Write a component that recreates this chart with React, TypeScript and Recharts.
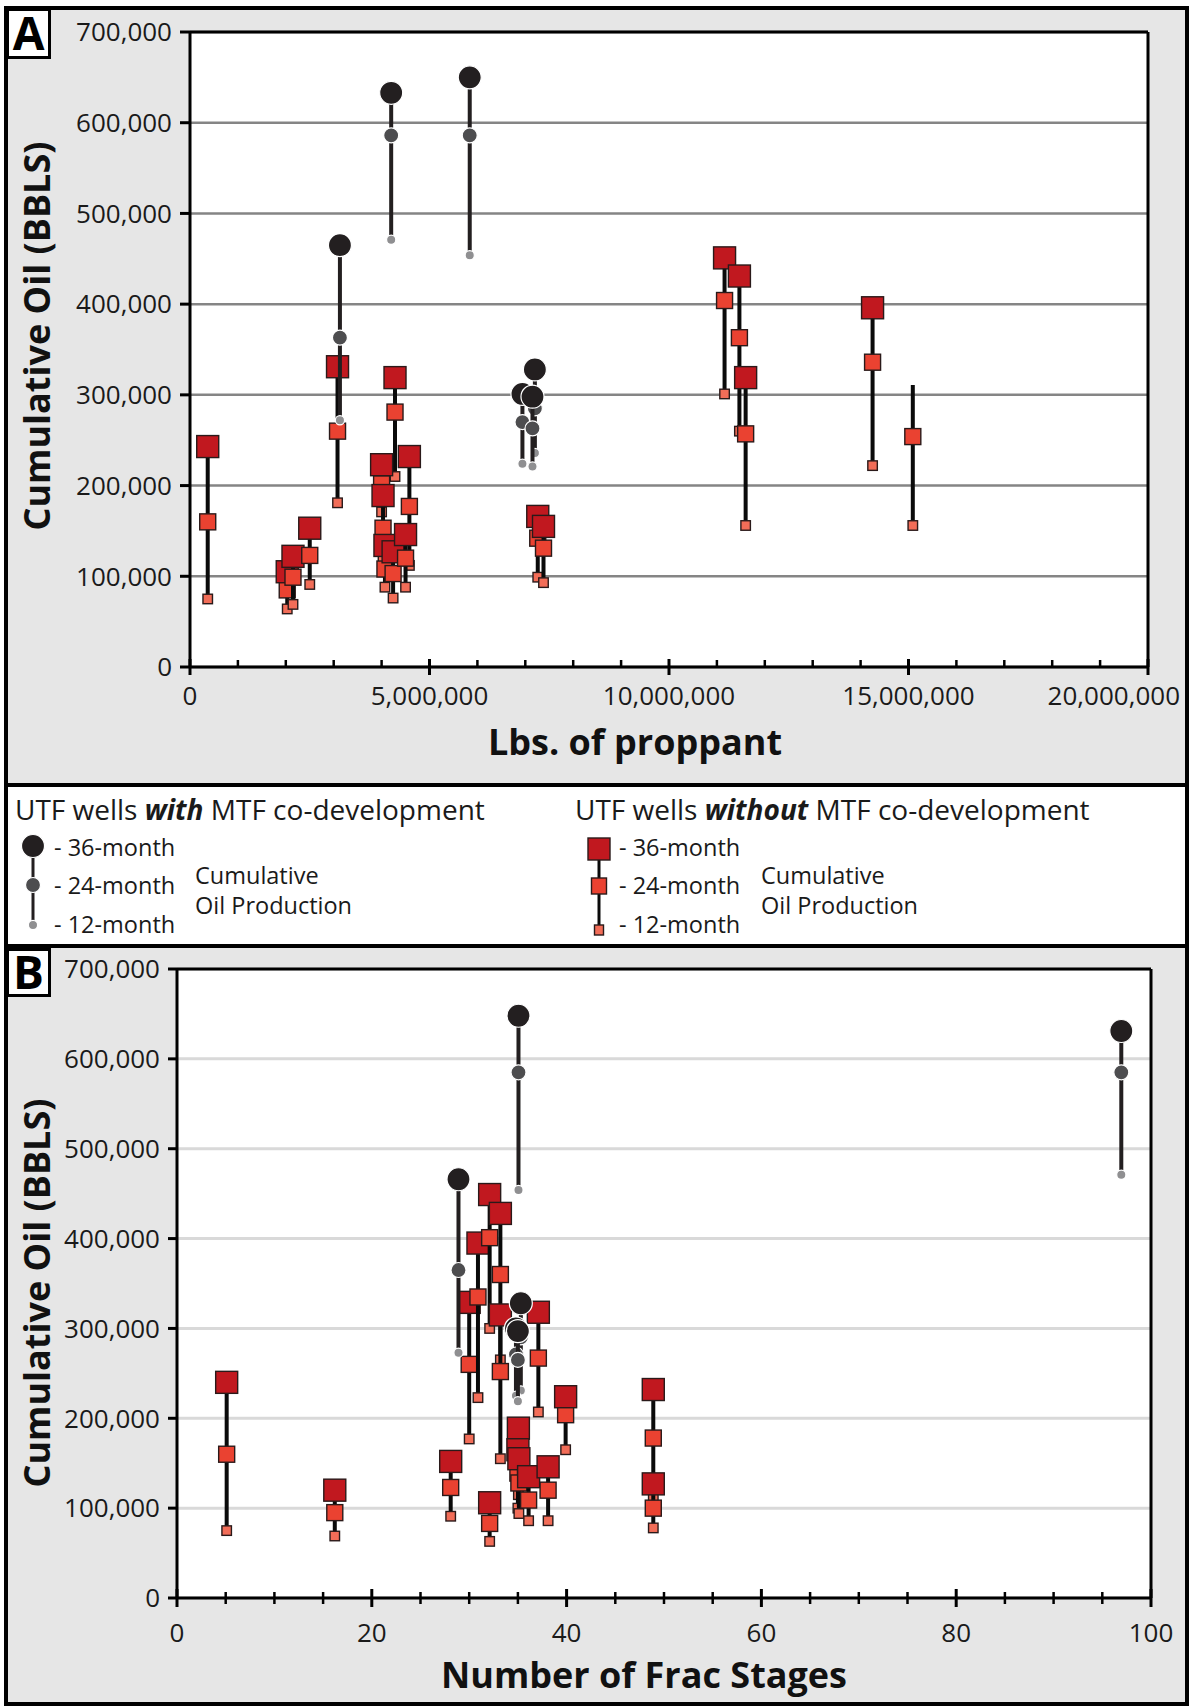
import React from 'react';
import { ScatterChart, Scatter, XAxis, YAxis, CartesianGrid } from 'recharts';

const FONT = "'Open Sans', 'DejaVu Sans', sans-serif";

// ---------------- Panel A : cumulative oil vs lbs. of proppant ----------------
// UTF wells WITH MTF co-development (circles)
const aWithProppant = [7200000, 6940000, 7150000, 3130000, 4200000, 5840000];
const aWithOil36 = [328000, 301000, 298000, 465000, 633000, 650000];
const aWithOil24 = [285000, 270000, 263000, 363000, 586000, 586000];
const aWithOil12 = [236000, 224000, 221000, 272000, 471000, 454000];

// UTF wells WITHOUT MTF co-development (squares)
const aWithoutProppant = [370000, 2030000, 2150000, 2500000, 3080000, 4280000, 4000000, 4030000, 4070000, 4240000, 4580000, 4500000, 7260000, 7380000, 11160000, 11470000, 11600000, 14250000, 15090000];
const aWithoutOil36 = [243000, 105000, 122000, 153000, 331000, 319000, 223000, 189000, 134000, 127000, 232000, 146000, 166000, 155000, 451000, 431000, 319000, 396000, 311000];
const aWithoutOil24 = [160000, 85000, 99000, 123000, 260000, 281000, 202000, 153000, 108000, 103000, 177000, 120000, 142000, 131000, 404000, 363000, 257000, 336000, 254000];
const aWithoutOil12 = [75000, 64000, 69000, 91000, 181000, 210000, 171000, 119000, 88000, 76000, 112000, 88000, 99000, 93000, 301000, 260000, 156000, 222000, 156000];
const aWithout36Marked = [true, true, true, true, true, true, true, true, true, true, true, true, true, true, true, true, true, true, false];

// ---------------- Panel B : cumulative oil vs number of frac stages ----------------
const bWithStages = [35.3, 34.8, 35.0, 28.9, 96.95, 35.06];
const bWithOil36 = [328000, 300000, 297000, 466000, 631000, 648000];
const bWithOil24 = [290000, 271000, 265000, 365000, 585000, 585000];
const bWithOil12 = [231000, 225000, 219000, 273000, 471000, 454000];

const bWithoutStages = [5.1, 16.2, 28.1, 30.0, 30.9, 32.1, 33.2, 33.2, 32.1, 35.05, 35.0, 35.1, 36.1, 38.1, 39.9, 37.1, 48.9, 48.9];
const bWithoutOil36 = [240000, 120000, 152000, 329000, 395000, 449000, 428000, 315000, 106000, 189000, 165000, 155000, 135000, 146000, 224000, 318000, 232000, 127000];
const bWithoutOil24 = [160000, 95000, 123000, 260000, 335000, 401000, 360000, 252000, 83000, 154000, 139000, 128000, 109000, 120000, 204000, 267000, 178000, 100000];
const bWithoutOil12 = [75000, 69000, 91000, 177000, 223000, 300000, 265000, 155000, 63000, 115000, 100000, 94000, 86000, 86000, 165000, 207000, 112000, 78000];

// ---------------- ticks ----------------
const oilTicks = [0, 100000, 200000, 300000, 400000, 500000, 600000, 700000];
const proppantTicks = [0, 1000000, 2000000, 3000000, 4000000, 5000000, 6000000, 7000000, 8000000, 9000000, 10000000, 11000000, 12000000, 13000000, 14000000, 15000000, 16000000, 17000000, 18000000, 19000000, 20000000];
const proppantLabelTicks = [0, 5000000, 10000000, 15000000, 20000000];
const stageTicks = [0, 5, 10, 15, 20, 25, 30, 35, 40, 45, 50, 55, 60, 65, 70, 75, 80, 85, 90, 95, 100];
const stageLabelTicks = [0, 20, 40, 60, 80, 100];

// ---------------- colours ----------------
const SQ36 = '#c1181f';
const SQ24 = '#ea4231';
const SQ12 = '#f26d58';
const SQ_EDGE = '#2a1a1a';
const CI36 = '#231f20';
const CI24 = '#4d4d4f';
const CI12 = '#8f8f91';

type Pt = { x: number; y: number; m: number; hidden?: boolean };

function buildWells(xs: number[], y36: number[], y24: number[], y12: number[], marked?: boolean[]): Pt[][] {
  return xs.map((x, i) => [
    { x, y: y12[i], m: 12 },
    { x, y: y24[i], m: 24 },
    { x, y: y36[i], m: 36, hidden: marked ? !marked[i] : false },
  ]);
}

const fmt = (v: number) => v.toLocaleString('en-US');

const CircleMark = (props: any) => {
  const { cx, cy, payload } = props;
  if (cx == null || cy == null || !payload || payload.hidden) return <g />;
  const r = payload.m === 36 ? 11.5 : payload.m === 24 ? 7.5 : 4.6;
  const fill = payload.m === 36 ? CI36 : payload.m === 24 ? CI24 : CI12;
  return <circle cx={cx} cy={cy} r={r} fill={fill} stroke="#ffffff" strokeWidth={1.2} />;
};

const SquareMark = (props: any) => {
  const { cx, cy, payload } = props;
  if (cx == null || cy == null || !payload || payload.hidden) return <g />;
  const s = payload.m === 36 ? 22 : payload.m === 24 ? 16 : 9.5;
  const fill = payload.m === 36 ? SQ36 : payload.m === 24 ? SQ24 : SQ12;
  return <rect x={cx - s / 2} y={cy - s / 2} width={s} height={s} fill={fill} stroke={SQ_EDGE} strokeWidth={1.4} />;
};

const ProppantTick = (props: any) => {
  const { x, y, payload } = props;
  const v = payload.value;
  const major = proppantLabelTicks.includes(v);
  const last = v === 20000000;
  return (
    <g>
      <line x1={x} x2={x} y1={y - (major ? 8 : 7)} y2={major ? y + 8 : y} stroke="#000" strokeWidth={major ? 3 : 2.5} />
      {major && (
        <text x={last ? x + 32 : x} y={y + 38} textAnchor={last ? 'end' : 'middle'} fontSize={26} fontFamily={FONT} fill="#1a1a1a">
          {fmt(v)}
        </text>
      )}
    </g>
  );
};

const StageTick = (props: any) => {
  const { x, y, payload } = props;
  const v = payload.value;
  const major = stageLabelTicks.includes(v);
  return (
    <g>
      <line x1={x} x2={x} y1={y - (major ? 9 : 6)} y2={y + (major ? 9 : 6)} stroke="#000" strokeWidth={major ? 3 : 2.5} />
      {major && (
        <text x={x} y={y + 44} textAnchor="middle" fontSize={26} fontFamily={FONT} fill="#1a1a1a">
          {fmt(v)}
        </text>
      )}
    </g>
  );
};

type PanelProps = {
  width: number;
  height: number;
  margin: { top: number; right: number; bottom: number; left: number };
  xDomain: [number, number];
  xTicks: number[];
  xTick: any;
  yTickSize: number;
  gridColor: string;
  gridWidth: number;
  withWells: Pt[][];
  withoutWells: Pt[][];
};

function Panel(p: PanelProps) {
  const frame = { stroke: '#000', strokeWidth: 3 };
  return (
    <ScatterChart width={p.width} height={p.height} margin={p.margin}>
      <CartesianGrid vertical={false} stroke={p.gridColor} strokeWidth={p.gridWidth} fill="#ffffff" fillOpacity={1} />
      <XAxis xAxisId="frameTop" orientation="top" type="number" domain={p.xDomain} height={1} tick={false} tickLine={false} axisLine={frame} allowDataOverflow />
      <YAxis yAxisId="frameRight" orientation="right" type="number" domain={[0, 700000]} width={1} tick={false} tickLine={false} axisLine={frame} allowDataOverflow />
      <XAxis
        type="number"
        dataKey="x"
        domain={p.xDomain}
        ticks={p.xTicks}
        interval={0}
        height={60}
        tickSize={0}
        tickMargin={0}
        tickLine={false}
        axisLine={frame}
        tick={(tp: any) => p.xTick(tp)}
        allowDataOverflow
      />
      <YAxis
        type="number"
        dataKey="y"
        domain={[0, 700000]}
        ticks={oilTicks}
        interval={0}
        width={60}
        tickSize={p.yTickSize}
        tickMargin={8}
        tickLine={{ stroke: '#000', strokeWidth: 3 }}
        axisLine={frame}
        tick={{ fill: '#1a1a1a', fontSize: 26, fontFamily: FONT }}
        tickFormatter={fmt}
        allowDataOverflow
      />
      {p.withoutWells.map((w, i) => (
        <Scatter
          key={'wo' + i}
          data={w}
          dataKey="y"
          line={{ stroke: '#0a0a0a', strokeWidth: 4 }}
          lineJointType="linear"
          shape={SquareMark}
          isAnimationActive={false}
        />
      ))}
      {p.withWells.map((w, i) => (
        <Scatter
          key={'w' + i}
          data={w}
          dataKey="y"
          line={{ stroke: CI36, strokeWidth: 4 }}
          lineJointType="linear"
          shape={CircleMark}
          isAnimationActive={false}
        />
      ))}
    </ScatterChart>
  );
}

const boxStyle = (top: number, height: number, bg: string): React.CSSProperties => ({
  position: 'absolute',
  left: 4,
  top,
  width: 1185,
  height,
  background: bg,
  border: '4px solid #000',
  boxSizing: 'border-box',
});

export default function App() {
  const aWith = buildWells(aWithProppant, aWithOil36, aWithOil24, aWithOil12);
  const aWithout = buildWells(aWithoutProppant, aWithoutOil36, aWithoutOil24, aWithoutOil12, aWithout36Marked);
  const bWith = buildWells(bWithStages, bWithOil36, bWithOil24, bWithOil12);
  const bWithout = buildWells(bWithoutStages, bWithoutOil36, bWithoutOil24, bWithoutOil12);

  const legendText = { fontFamily: FONT, fontSize: 23.5, fill: '#1a1a1a' } as const;
  const titleText = { fontFamily: FONT, fontSize: 28, fill: '#1a1a1a' } as const;
  const axisTitle = { fontFamily: FONT, fontSize: 36, fontWeight: 700, fill: '#111' } as const;

  return (
    <div style={{ position: 'absolute', left: 0, top: 0, width: 1191, height: 1708, background: '#fff' }}>
      <div style={boxStyle(6, 781, '#e6e6e6')} />
      <div style={boxStyle(783, 165, '#ffffff')} />
      <div style={boxStyle(944, 762, '#e6e6e6')} />

      <div style={{ position: 'absolute', left: 0, top: 0 }}>
        <Panel
          width={1191}
          height={790}
          margin={{ top: 31, right: 42, bottom: 63, left: 130 }}
          xDomain={[0, 20000000]}
          xTicks={proppantTicks}
          xTick={ProppantTick}
          yTickSize={10}
          gridColor="#858585"
          gridWidth={2.5}
          withWells={aWith}
          withoutWells={aWithout}
        />
      </div>

      <div style={{ position: 'absolute', left: 0, top: 900 }}>
        <Panel
          width={1191}
          height={808}
          margin={{ top: 68, right: 39, bottom: 50, left: 117 }}
          xDomain={[0, 100]}
          xTicks={stageTicks}
          xTick={StageTick}
          yTickSize={9}
          gridColor="#d9d9d9"
          gridWidth={3}
          withWells={bWith}
          withoutWells={bWithout}
        />
      </div>

      <svg width={1191} height={1708} style={{ position: 'absolute', left: 0, top: 0, pointerEvents: 'none' }}>
        {/* panel letters */}
        <rect x={7.5} y={9.5} width={42} height={48} fill="#fff" stroke="#000" strokeWidth={3} />
        <text x={28.5} y={50} textAnchor="middle" fontFamily={FONT} fontWeight={700} fontSize={46} fill="#000">A</text>
        <rect x={7.5} y={949.5} width={42} height={46} fill="#fff" stroke="#000" strokeWidth={3} />
        <text x={28.5} y={989} textAnchor="middle" fontFamily={FONT} fontWeight={700} fontSize={46} fill="#000">B</text>

        {/* axis titles */}
        <text x={50} y={336} transform="rotate(-90 50 336)" textAnchor="middle" {...axisTitle}>Cumulative Oil (BBLS)</text>
        <text x={635} y={755} textAnchor="middle" {...axisTitle}>Lbs. of proppant</text>
        <text x={50} y={1293} transform="rotate(-90 50 1293)" textAnchor="middle" {...axisTitle}>Cumulative Oil (BBLS)</text>
        <text x={644} y={1688} textAnchor="middle" {...axisTitle}>Number of Frac Stages</text>

        {/* legend: with MTF */}
        <text x={15} y={820} {...titleText}>
          UTF wells <tspan fontWeight={700} fontStyle="italic">with</tspan> MTF co-development
        </text>
        <line x1={33} x2={33} y1={846} y2={925} stroke={CI36} strokeWidth={3} />
        <circle cx={33} cy={846} r={11.5} fill={CI36} stroke="#fff" strokeWidth={1.2} />
        <circle cx={33} cy={885} r={7.5} fill={CI24} stroke="#fff" strokeWidth={1.2} />
        <circle cx={33} cy={925} r={4.6} fill={CI12} stroke="#fff" strokeWidth={1.2} />
        <text x={54} y={856} {...legendText}>- 36-month</text>
        <text x={54} y={894} {...legendText}>- 24-month</text>
        <text x={54} y={933} {...legendText}>- 12-month</text>
        <text x={195} y={884} {...legendText}>Cumulative</text>
        <text x={195} y={914} {...legendText}>Oil Production</text>

        {/* legend: without MTF */}
        <text x={575} y={820} {...titleText}>
          UTF wells <tspan fontWeight={700} fontStyle="italic">without</tspan> MTF co-development
        </text>
        <line x1={599} x2={599} y1={849} y2={930} stroke="#0a0a0a" strokeWidth={3} />
        <rect x={588} y={838} width={22} height={22} fill={SQ36} stroke={SQ_EDGE} strokeWidth={1.4} />
        <rect x={591.5} y={878} width={15} height={16} fill={SQ24} stroke={SQ_EDGE} strokeWidth={1.4} />
        <rect x={594.5} y={925} width={9} height={10} fill={SQ12} stroke={SQ_EDGE} strokeWidth={1.4} />
        <text x={619} y={856} {...legendText}>- 36-month</text>
        <text x={619} y={894} {...legendText}>- 24-month</text>
        <text x={619} y={933} {...legendText}>- 12-month</text>
        <text x={761} y={884} {...legendText}>Cumulative</text>
        <text x={761} y={914} {...legendText}>Oil Production</text>
      </svg>
    </div>
  );
}
